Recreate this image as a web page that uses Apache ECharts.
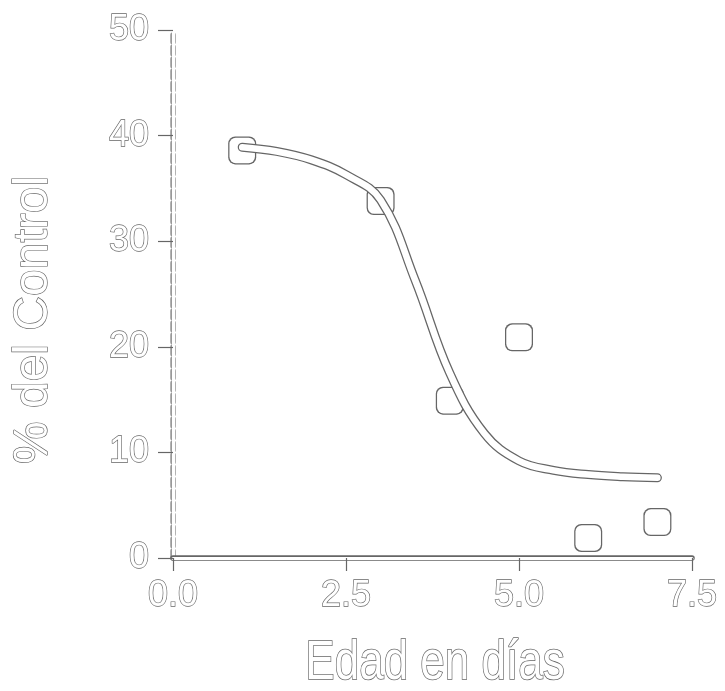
<!DOCTYPE html>
<html>
<head>
<meta charset="utf-8">
<script src="https://cdn.jsdelivr.net/npm/echarts@6/dist/echarts.min.js"></script>
<style>
  html, body { margin: 0; padding: 0; background: #fff; }
  #vis { width: 725px; height: 691px; }
</style>
</head>
<body>
<div id="vis"></div>
<script>
// measured points (age in days, % of control)
const edad = [1.0, 3.0, 4.0, 5.0, 6.0, 7.0];
const control = [38.6, 33.8, 14.9, 20.9, 1.9, 3.4];

// fitted curve
const curvaX = [1.0, 1.5, 2.0, 2.5, 3.0, 3.5, 4.0, 4.5, 5.0, 5.5, 6.0, 6.5, 7.0];
const curvaY = [38.9, 38.5, 37.7, 36.3, 33.9, 26.3, 17.5, 11.8, 9.2, 8.3, 7.9, 7.7, 7.6];

const xTicks = [0, 2.5, 5.0, 7.5];
const yTicks = [0, 10, 20, 30, 40, 50];

const ink = '#666';
const font = '"Liberation Sans", Arial, sans-serif';

const chart = echarts.init(document.getElementById('vis'), null, {renderer: 'canvas'});

const pts = edad.map((x, i) => [x, control[i]]);
const curva = curvaX.map((x, i) => [x, curvaY[i]]);

const outlineText = {
  color: '#fff',
  textBorderColor: ink,
  textBorderWidth: 1.3,
  fontFamily: font,
  fontSize: 36
};

function xAxisDef(outer) {
  return {
    type: 'value',
    position: 'bottom',
    min: xTicks[0],
    max: xTicks[xTicks.length - 1],
    interval: 2.5,
    axisLine: {show: true, onZero: false, lineStyle: {color: outer ? ink : '#fff', width: outer ? 5.5 : 3}},
    axisTick: {show: outer, length: 13, lineStyle: {color: ink, width: 1.2}},
    axisLabel: outer ? Object.assign({margin: 20, formatter: v => v.toFixed(1)}, outlineText) : {show: false},
    splitLine: {show: false}
  };
}

function yAxisDef(outer) {
  return {
    type: 'value',
    position: 'left',
    min: yTicks[0],
    max: yTicks[yTicks.length - 1],
    interval: 10,
    axisLine: {show: true, onZero: false, lineStyle: {color: outer ? '#999' : '#fff', width: outer ? 5.5 : 3, type: outer ? [7, 5] : 'solid'}},
    axisTick: {show: outer, length: 15, lineStyle: {color: ink, width: 1.2}},
    axisLabel: outer ? Object.assign({margin: 24}, outlineText) : {show: false},
    splitLine: {show: false}
  };
}

chart.setOption({
  backgroundColor: '#fff',
  animation: false,
  grid: {left: 173, right: 33, top: 30, bottom: 133},
  xAxis: [xAxisDef(true), xAxisDef(false)],
  yAxis: [yAxisDef(true), yAxisDef(false)],
  graphic: [
    {
      type: 'text',
      x: 435, y: 664,
      scaleY: 1.25,
      style: {
        text: 'Edad en días',
        fill: '#fff', stroke: ink, lineWidth: 1.3,
        fontFamily: font, fontSize: 44,
        align: 'center', verticalAlign: 'middle'
      }
    },
    {
      type: 'text',
      x: 34, y: 320,
      rotation: Math.PI / 2,
      style: {
        text: '% del Control',
        fill: '#fff', stroke: ink, lineWidth: 1.3,
        fontFamily: font, fontSize: 48,
        align: 'center', verticalAlign: 'middle'
      }
    }
  ],
  series: [
    {
      type: 'line', data: curva, smooth: 0.4, symbol: 'none',
      lineStyle: {color: ink, width: 9, cap: 'round'}
    },
    {
      type: 'scatter', data: pts, symbol: 'roundRect', symbolSize: 28,
      itemStyle: {color: ink, opacity: 1}
    },
    {
      type: 'line', data: curva, smooth: 0.4, symbol: 'none',
      lineStyle: {color: '#fff', width: 6.5, cap: 'round'}
    },
    {
      type: 'scatter', data: pts, symbol: 'roundRect', symbolSize: 25.5,
      itemStyle: {color: '#fff', opacity: 1}
    }
  ]
});
</script>
</body>
</html>
